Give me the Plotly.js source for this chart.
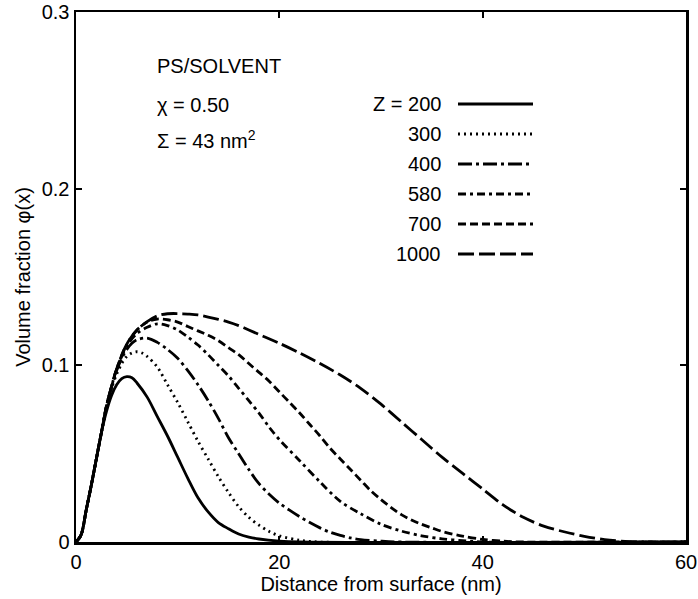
<!DOCTYPE html>
<html>
<head>
<meta charset="utf-8">
<script src="https://cdn.plot.ly/plotly-3.0.1.min.js"></script>
<style>html,body{margin:0;padding:0;background:#fff;}</style>
</head>
<body>
<div id="chart" style="width:698px;height:599px;"></div>
<script>
// ---- Data ----
const zLabels = ['Z = 200', '300', '400', '580', '700', '1000'];

const x200 = [0,0.5,1,1.5,2,2.5,3,3.5,4,4.5,5,5.5,6,7,8,9,10,11,12,13,14,15,16,17,18,20,22,60];
const y200 = [0,0.004,0.018,0.032,0.047,0.062,0.074,0.083,0.089,0.0925,0.0936,0.093,0.090,0.082,0.071,0.060,0.048,0.036,0.025,0.017,0.011,0.0075,0.0045,0.0028,0.0017,0.0005,0,0];

const x300 = [0,0.5,1,1.5,2,2.5,3,3.5,4,4.5,5,5.5,6,6.5,7,8,9,10,11,12,13,14,15,16,17,18,19,20,22,24,60];
const y300 = [0,0.004,0.018,0.032,0.047,0.062,0.076,0.087,0.095,0.101,0.105,0.107,0.1077,0.107,0.105,0.099,0.089,0.079,0.068,0.057,0.047,0.037,0.028,0.020,0.014,0.0095,0.006,0.0035,0.001,0,0];

const x400 = [0,0.5,1,1.5,2,2.5,3,3.5,4,4.5,5,5.5,6,7,8,9,10,11,12,13,14,15,16,17,18,19,20,21,22,23,24,25,26,27,28,30,32,60];
const y400 = [0,0.004,0.018,0.032,0.047,0.062,0.077,0.088,0.097,0.104,0.109,0.1125,0.1145,0.1154,0.113,0.109,0.104,0.097,0.089,0.080,0.070,0.059,0.050,0.041,0.033,0.027,0.022,0.018,0.0143,0.011,0.008,0.0055,0.0037,0.0023,0.0014,0.0005,0,0];

const x580 = [0,0.5,1,1.5,2,2.5,3,3.5,4,5,6,7,8,9,10,11,12,13,14,15,16,17,18,19,20,22,24,26,28,30,32,34,36,38,40,60];
const y580 = [0,0.004,0.018,0.032,0.047,0.062,0.077,0.088,0.098,0.111,0.118,0.1215,0.1235,0.1225,0.120,0.116,0.1115,0.106,0.100,0.094,0.087,0.080,0.073,0.065,0.058,0.046,0.034,0.023,0.016,0.010,0.0062,0.0035,0.0018,0.0008,0,0];

const x700 = [0,0.5,1,1.5,2,2.5,3,3.5,4,5,6,7,8,9,10,11,12,13,14,15,16,17,18,19,20,21,22,23,24,25,26,27,28,29,30,31,32,33,34,35,36,38,40,42,44,60];
const y700 = [0,0.004,0.018,0.032,0.047,0.062,0.077,0.088,0.098,0.112,0.120,0.1245,0.1262,0.1258,0.1245,0.122,0.1195,0.117,0.114,0.110,0.106,0.101,0.096,0.091,0.085,0.079,0.073,0.0665,0.060,0.053,0.047,0.041,0.035,0.029,0.024,0.0195,0.0155,0.0125,0.010,0.008,0.006,0.0033,0.0015,0.0005,0,0];

const x1000 = [0,0.5,1,1.5,2,2.5,3,3.5,4,5,6,7,8,9,10,11,12,13,14,15,16,17,18,20,22,24,26,28,30,32,34,36,38,40,42,44,46,48,50,52,54,56,60];
const y1000 = [0,0.004,0.018,0.032,0.047,0.062,0.077,0.088,0.098,0.112,0.120,0.1247,0.128,0.1292,0.1293,0.129,0.1285,0.1273,0.126,0.1245,0.1225,0.120,0.1175,0.1125,0.107,0.101,0.0945,0.087,0.078,0.068,0.058,0.048,0.039,0.030,0.021,0.014,0.009,0.0058,0.0032,0.0014,0.0004,0,0];

const xTickVals = [0, 20, 40, 60];
const xTickText = ['0', '20', '40', '60'];
const yTickVals = [0, 0.1, 0.2, 0.3];
const yTickText = ['0', '0.1', '0.2', '0.3'];

// ---- Styles ----
const dashes = ['solid', '2px,4px', '14px,4px,3px,4px', '8px,4px,3px,4px', '8px,4px', '16px,5px'];
const lw = 2.8;

const xs = [x200, x300, x400, x580, x700, x1000];
const ys = [y200, y300, y400, y580, y700, y1000];

const traces = xs.map((x, i) => ({
  x: x, y: ys[i], type: 'scatter', mode: 'lines', name: zLabels[i],
  line: {color: 'black', width: lw, dash: dashes[i], shape: 'spline', smoothing: 0.9},
  hoverinfo: 'skip'
}));

// plot area in pixels
const PL = 76, PR = 686, PT = 12, PB = 542;
const px2x = px => (px - PL) / (PR - PL);
const py2y = py => (PB - py) / (PB - PT);

// legend drawn with shapes/annotations in paper coords
const legX0 = px2x(458), legX1 = px2x(533), legTextX = px2x(443);
const legRowsY = [104, 134, 164, 194, 224, 254].map(py2y);

const shapes = legRowsY.map((yy, i) => ({
  type: 'line', xref: 'paper', yref: 'paper', x0: legX0, x1: legX1, y0: yy, y1: yy,
  line: {color: 'black', width: lw, dash: dashes[i]}
}));

const annotations = legRowsY.map((yy, i) => ({
  xref: 'paper', yref: 'paper', x: legTextX, y: yy, xanchor: 'right', yanchor: 'middle',
  text: zLabels[i], showarrow: false, font: {size: 20}
}));

const infoX = px2x(155);
annotations.push(
  {xref:'paper', yref:'paper', x: infoX, y: py2y(66), xanchor:'left', yanchor:'middle', text:'PS/SOLVENT', showarrow:false, font:{size:20}},
  {xref:'paper', yref:'paper', x: infoX, y: py2y(105), xanchor:'left', yanchor:'middle', text:'χ = 0.50', showarrow:false, font:{size:20}},
  {xref:'paper', yref:'paper', x: infoX, y: py2y(140), xanchor:'left', yanchor:'middle', text:'Σ = 43 nm<sup>2</sup>', showarrow:false, font:{size:20}}
);

const axisCommon = {
  showline: true, linecolor: 'black', linewidth: 2.5, mirror: 'ticks',
  ticks: 'inside', ticklen: 6, tickwidth: 2, tickcolor: 'black',
  showgrid: false, zeroline: false, tickfont: {size: 20, color: 'black'},
  ticklabeloverflow: 'allow'
};

const layout = {
  width: 698, height: 599,
  margin: {l: PL, r: 698 - PR, t: PT, b: 599 - PB},
  paper_bgcolor: 'white', plot_bgcolor: 'white',
  showlegend: false,
  font: {family: '"Liberation Sans", Arial, Helvetica, sans-serif', size: 20, color: 'black'},
  xaxis: Object.assign({}, axisCommon, {
    range: [0, 60], tickmode: 'array', tickvals: xTickVals, ticktext: xTickText,
    title: {text: 'Distance from surface (nm)', font: {size: 20}, standoff: 5}
  }),
  yaxis: Object.assign({}, axisCommon, {
    range: [0, 0.3], tickmode: 'array', tickvals: yTickVals, ticktext: yTickText,
    title: {text: 'Volume fraction φ(x)', font: {size: 20}, standoff: 6}
  }),
  shapes: shapes,
  annotations: annotations
};

Plotly.newPlot('chart', traces, layout, {staticPlot: true, displayModeBar: false});
</script>
</body>
</html>
